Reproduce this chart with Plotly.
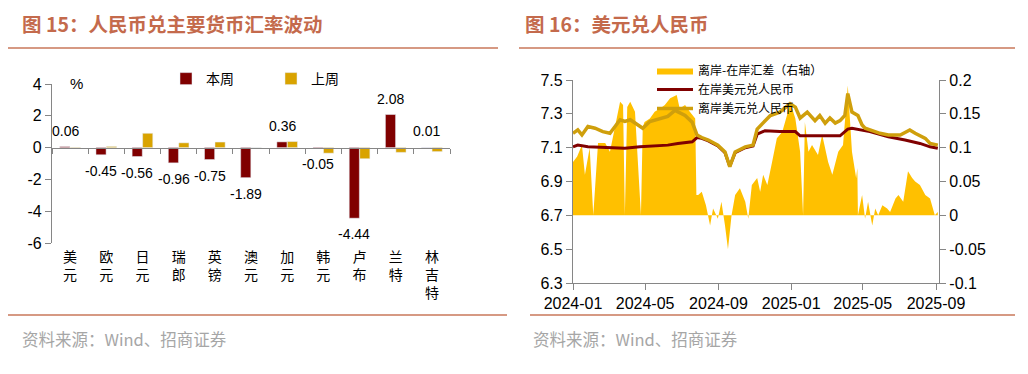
import plotly.graph_objects as go

# The page body has an 8px default margin; lay the figure out in window pixels minus that offset.
W, H = 1028, 374
OX, OY = 8, 8
FW, FH = W - OX, H - OY
def px(x): return (x - OX) / FW
def py(y): return 1 - (y - OY) / FH

FONT = "Liberation Sans, Arial, Noto Sans CJK SC, sans-serif"
CJK = "Noto Sans CJK SC, Liberation Sans, sans-serif"
RED = "#800000"
GOLD = "#D9A300"
AREA = "#FFC000"
LINE_GOLD = "#CF9F0C"
TITLE_C = "#C46A4C"
AXIS_C = "#868686"

# ---------------- Left chart data ----------------
currencies = ["美元", "欧元", "日元", "瑞郎", "英镑", "澳元", "加元", "韩元", "卢布", "兰特", "林吉特"]
this_week = [0.06, -0.45, -0.56, -0.96, -0.75, -1.89, 0.36, -0.05, -4.44, 2.08, 0.01]
last_week = [-0.03, 0.07, 0.90, 0.30, 0.35, 0.01, 0.38, -0.35, -0.70, -0.30, -0.25]
left_yticks = [-6, -4, -2, 0, 2, 4]

# ---------------- Right chart data ----------------
offshore_dates = ["2024-01-01", "2024-01-09", "2024-01-16", "2024-01-26", "2024-02-07", "2024-02-20",
                  "2024-03-03", "2024-03-11", "2024-03-20", "2024-03-28", "2024-04-06", "2024-04-19",
                  "2024-04-27", "2024-05-09", "2024-05-26", "2024-06-08", "2024-06-20", "2024-07-07",
                  "2024-07-19", "2024-07-27", "2024-08-04", "2024-08-15", "2024-08-31", "2024-09-12",
                  "2024-09-20", "2024-09-29", "2024-10-16", "2024-10-29", "2024-11-05", "2024-11-18",
                  "2024-11-27", "2024-12-13", "2024-12-30", "2025-01-08", "2025-01-16", "2025-01-28",
                  "2025-02-10", "2025-02-18", "2025-02-27", "2025-03-07", "2025-03-16", "2025-03-24",
                  "2025-04-01", "2025-04-06", "2025-04-13", "2025-04-23", "2025-04-30", "2025-05-05",
                  "2025-05-13", "2025-05-22", "2025-05-30", "2025-06-13", "2025-07-03", "2025-07-19",
                  "2025-07-28", "2025-08-14", "2025-08-22", "2025-09-04"]
offshore_vals = [7.185, 7.205, 7.175, 7.225, 7.215, 7.195,
                 7.185, 7.225, 7.265, 7.255, 7.265, 7.234,
                 7.215, 7.255, 7.275, 7.285, 7.320, 7.290,
                 7.250, 7.175, 7.160, 7.145, 7.115, 7.075,
                 6.987, 7.075, 7.105, 7.115, 7.210, 7.260,
                 7.290, 7.310, 7.360, 7.340, 7.275, 7.310,
                 7.260, 7.290, 7.245, 7.275, 7.245, 7.260,
                 7.290, 7.420, 7.310, 7.290, 7.234, 7.215,
                 7.205, 7.195, 7.185, 7.175, 7.175, 7.205,
                 7.185, 7.155, 7.125, 7.115]

onshore_dates = ["2024-01-01", "2024-01-09", "2024-01-26", "2024-03-03", "2024-03-28", "2024-04-22",
                 "2024-05-18", "2024-06-08", "2024-06-25", "2024-07-19", "2024-07-27", "2024-08-04",
                 "2024-08-15", "2024-08-31", "2024-09-12", "2024-09-20", "2024-09-29", "2024-10-16",
                 "2024-10-29", "2024-11-05", "2024-11-18", "2024-12-13", "2025-01-08", "2025-01-16",
                 "2025-02-18", "2025-03-24", "2025-04-06", "2025-04-13", "2025-05-13", "2025-06-13",
                 "2025-07-11", "2025-08-05", "2025-08-22", "2025-09-04"]
onshore_vals = [7.105, 7.115, 7.105, 7.100, 7.096, 7.105,
                7.110, 7.115, 7.125, 7.135, 7.160, 7.155,
                7.140, 7.110, 7.070, 6.990, 7.070, 7.100,
                7.110, 7.180, 7.200, 7.195, 7.195, 7.170,
                7.170, 7.170, 7.210, 7.215, 7.195, 7.165,
                7.145, 7.125, 7.105, 7.096]

spread_dates = ["2024-01-01", "2024-01-08", "2024-01-16", "2024-01-21", "2024-01-29", "2024-02-03",
                "2024-02-04", "2024-02-12", "2024-02-24", "2024-03-03", "2024-03-11", "2024-03-20",
                "2024-03-25", "2024-03-28", "2024-04-01", "2024-04-06", "2024-04-14", "2024-04-24",
                "2024-04-27", "2024-04-30", "2024-05-09", "2024-05-17", "2024-05-26", "2024-06-03",
                "2024-06-12", "2024-06-23", "2024-06-28", "2024-07-07", "2024-07-15", "2024-07-24",
                "2024-07-26", "2024-07-29", "2024-08-04", "2024-08-11", "2024-08-18", "2024-08-23",
                "2024-08-31", "2024-09-06", "2024-09-12", "2024-09-17", "2024-09-23", "2024-09-29",
                "2024-10-07", "2024-10-16", "2024-10-21", "2024-10-27", "2024-11-05", "2024-11-10",
                "2024-11-15", "2024-11-22", "2024-11-30", "2024-12-08", "2024-12-17", "2024-12-25",
                "2024-12-30", "2025-01-08", "2025-01-16", "2025-01-21", "2025-01-24", "2025-01-30",
                "2025-02-05", "2025-02-15", "2025-02-22", "2025-03-04", "2025-03-11", "2025-03-21",
                "2025-03-29", "2025-04-03", "2025-04-06", "2025-04-13", "2025-04-20", "2025-04-22",
                "2025-04-23", "2025-04-30", "2025-05-05", "2025-05-10", "2025-05-17", "2025-05-22",
                "2025-05-27", "2025-06-03", "2025-06-11", "2025-06-16", "2025-06-25", "2025-06-30",
                "2025-07-08", "2025-07-16", "2025-07-23", "2025-07-28", "2025-08-05", "2025-08-14",
                "2025-08-22", "2025-08-30", "2025-09-04"]
spread_vals = [0.079, 0.087, 0.104, 0.060, 0.100, 0.000,
               0.000, 0.107, 0.107, 0.094, 0.130, 0.168,
               0.163, 0.000, 0.160, 0.168, 0.153, 0.000,
               0.130, 0.138, 0.143, 0.153, 0.158, 0.163,
               0.173, 0.178, 0.158, 0.163, 0.153, 0.143,
               0.030, 0.030, 0.035, 0.015, -0.015, 0.010,
               -0.005, 0.020, -0.015, -0.050, 0.000, 0.030,
               0.040, 0.020, -0.005, 0.045, 0.055, 0.035,
               0.060, 0.045, 0.079, 0.114, 0.123, 0.148,
               0.168, 0.143, 0.094, 0.000, 0.138, 0.094,
               0.104, 0.089, 0.119, 0.079, 0.060, 0.094,
               0.104, 0.153, 0.192, 0.094, 0.055, 0.070,
               0.000, 0.030, -0.005, 0.020, -0.015, 0.010,
               0.000, 0.015, 0.010, 0.005, 0.025, 0.030,
               0.020, 0.065, 0.055, 0.050, 0.045, 0.030,
               0.025, 0.000, 0.005]

date_ticks = ["2024-01-01", "2024-05-01", "2024-09-01", "2025-01-01", "2025-05-01", "2025-09-01"]
date_ticktext = ["2024-01", "2024-05", "2024-09", "2025-01", "2025-05", "2025-09"]
rate_ticks = [6.3, 6.5, 6.7, 6.9, 7.1, 7.3, 7.5]
spread_ticks = [-0.1, -0.05, 0, 0.05, 0.1, 0.15, 0.2]
spread_ticktext = ["-0.1", "-0.05", "0", "0.05", "0.1", "0.15", "0.2"]

fig = go.Figure()

# ---------------- Left chart ----------------
idx = list(range(len(currencies)))
BW = 0.28
fig.add_trace(go.Bar(x=idx, y=this_week, name="本周", marker_color=RED, width=BW, offset=-BW - 0.005,
                     xaxis="x", yaxis="y", legend="legend"))
fig.add_trace(go.Bar(x=idx, y=last_week, name="上周", marker_color=GOLD, width=BW, offset=0.005,
                     xaxis="x", yaxis="y", legend="legend"))
fig.add_trace(go.Scatter(x=[0], y=[0], xaxis="x3", yaxis="y", mode="markers",
                         marker=dict(opacity=0), showlegend=False, hoverinfo="skip"))

for i, v in enumerate(this_week):
    fig.add_annotation(x=i - BW / 2, y=v, xref="x", yref="y", text=f"{v:.2f}", showarrow=False,
                       yshift=16 if v >= 0 else -16, font=dict(size=14, family=FONT, color="#000"))

# ---------------- Right chart ----------------
fig.add_trace(go.Scatter(x=spread_dates, y=spread_vals, name="离岸-在岸汇差（右轴）", mode="lines",
                         line=dict(width=0, color=AREA), fill="tozeroy", fillcolor=AREA,
                         xaxis="x2", yaxis="y2", legend="legend2"))
fig.add_trace(go.Scatter(x=onshore_dates, y=onshore_vals, name="在岸美元兑人民币", mode="lines",
                         line=dict(width=3, color=RED), xaxis="x2", yaxis="y3", legend="legend2"))
fig.add_trace(go.Scatter(x=offshore_dates, y=offshore_vals, name="离岸美元兑人民币", mode="lines",
                         line=dict(width=3.5, color=LINE_GOLD), xaxis="x2", yaxis="y3", legend="legend2"))

# ---------------- Layout ----------------
LX0, LX1 = px(52), px(450)
LY0, LY1 = py(243), py(84)
ymin, ymax = -6, 4
zero_pos = LY0 + (0 - ymin) / (ymax - ymin) * (LY1 - LY0)

RX0, RX1 = px(573), px(939)
RY0, RY1 = py(283), py(80)

tickfont = dict(size=16, family=FONT, color="#000")

fig.update_layout(
    width=FW, height=FH, autosize=False, margin=dict(l=0, r=0, t=0, b=0, pad=0, autoexpand=False),
    paper_bgcolor="white", plot_bgcolor="white",
    font=dict(family=FONT, color="#000"),
    barmode="overlay",
    showlegend=True,
    xaxis=dict(domain=[LX0, LX1], anchor="y", range=[-0.5, 10.5], tickvals=idx,
               ticktext=["<br>".join(list(c)) for c in currencies],
               tickfont=dict(size=14, family=CJK, color="#000"), ticks="", showline=False,
               showgrid=False, zeroline=False, ticklabelstandoff=4, automargin=False),
    xaxis3=dict(overlaying="x", anchor="free", position=zero_pos, range=[-0.5, 10.5],
                tickvals=[k - 0.5 for k in range(12)], ticks="outside", ticklen=5, tickcolor=AXIS_C,
                showticklabels=False, showline=True, linecolor=AXIS_C, linewidth=1.3,
                showgrid=False, zeroline=False, automargin=False),
    yaxis=dict(domain=[LY0, LY1], anchor="x", range=[ymin, ymax], tickvals=left_yticks,
               ticktext=[str(t) for t in left_yticks], ticks="outside", ticklen=6, tickcolor=AXIS_C,
               showline=True, linecolor=AXIS_C, linewidth=1.3, showgrid=False, zeroline=False,
               tickfont=tickfont, automargin=False),
    xaxis2=dict(domain=[RX0, RX1], anchor="y2", type="date", range=["2024-01-01", "2025-09-06"],
                tickvals=date_ticks, ticktext=date_ticktext, ticks="outside", ticklen=6,
                tickcolor=AXIS_C, showline=True, linecolor=AXIS_C, linewidth=1.3, showgrid=False,
                zeroline=False, tickfont=tickfont, automargin=False),
    yaxis2=dict(domain=[RY0, RY1], anchor="x2", side="right", range=[-0.1, 0.2],
                tickvals=spread_ticks, ticktext=spread_ticktext,
                ticks="outside", ticklen=6, tickcolor=AXIS_C, showline=True, linecolor=AXIS_C,
                linewidth=1.3, showgrid=False, zeroline=False, tickfont=tickfont, automargin=False),
    yaxis3=dict(overlaying="y2", anchor="x2", side="left", range=[6.3, 7.5], tickvals=rate_ticks,
                ticktext=[f"{t:.1f}" for t in rate_ticks], ticks="outside", ticklen=6,
                tickcolor=AXIS_C, showline=True, linecolor=AXIS_C, linewidth=1.3, showgrid=False,
                zeroline=False, tickfont=tickfont, automargin=False),
    legend=dict(orientation="h", x=px(166), y=py(63), xanchor="left", yanchor="top",
                font=dict(size=14, family=CJK, color="#000"), bgcolor="rgba(0,0,0,0)",
                entrywidth=60, entrywidthmode="pixels", itemwidth=30),
    legend2=dict(orientation="v", x=px(652), y=py(56), xanchor="left", yanchor="top",
                 font=dict(size=12, family=CJK, color="#000"), bgcolor="rgba(0,0,0,0)",
                 tracegroupgap=0, itemwidth=36),
)

fig.add_annotation(x=px(20), y=py(23), xref="paper", yref="paper", xanchor="left", yanchor="middle",
                   text="<b>图 15：人民币兑主要货币汇率波动</b>", showarrow=False,
                   font=dict(size=19.5, family=CJK, color=TITLE_C))
fig.add_annotation(x=px(523), y=py(23), xref="paper", yref="paper", xanchor="left", yanchor="middle",
                   text="<b>图 16：美元兑人民币</b>", showarrow=False,
                   font=dict(size=19.5, family=CJK, color=TITLE_C))
fig.add_annotation(x=px(68), y=py(83), xref="paper", yref="paper", xanchor="left", yanchor="middle",
                   text="%", showarrow=False, font=dict(size=15, family=FONT, color="#000"))
for xs in (20, 531):
    fig.add_annotation(x=px(xs), y=py(339), xref="paper", yref="paper", xanchor="left", yanchor="middle",
                       text="资料来源：Wind、招商证券", showarrow=False,
                       font=dict(size=16.5, family=CJK, color="#A6A6A6"))
for (x0, x1, y) in [(7, 498, 48), (519, 1015, 48), (7, 507, 315), (530, 1015, 315)]:
    fig.add_shape(type="line", xref="paper", yref="paper", x0=px(x0), x1=px(x1), y0=py(y), y1=py(y),
                  line=dict(color="#C8775A", width=1.5))

fig.write_html("out.html")
